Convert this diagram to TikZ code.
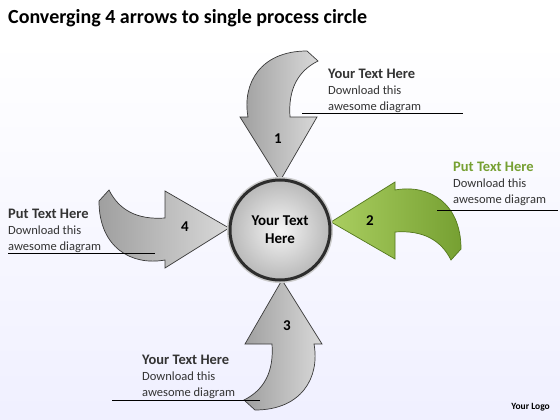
\documentclass[tikz,border=0pt]{standalone}
\usepackage{fontspec}
\setmainfont{Carlito}
\definecolor{leafgreen}{RGB}{118,160,50}
\definecolor{leafdark}{RGB}{84,120,30}
\definecolor{leaflight}{RGB}{170,206,96}
\newcommand{\headfont}{\bfseries\fontsize{14.5}{16}\selectfont}
\tikzset{
  bent arrow/.pic={
    \path[pic actions] (0,0) -- (37,-64) -- (10,-64)
      .. controls (8,-92) and (18,-110) .. (38,-120) -- (27,-130)
      .. controls (-20,-130) and (-38,-97) .. (-32,-64) -- (-40,-64) -- cycle;
  },
  grayarrow/.style={draw=gray!45!black, line width=0.7pt, left color=gray!75, right color=gray!30},
  greenarrow/.style={draw=leafdark, line width=0.7pt, left color=leaflight, right color=leafgreen},
  numlabel/.style={font=\bfseries\fontsize{15}{17}\selectfont},
  textblock/.style={anchor=north west, inner sep=0pt, align=left, font=\fontsize{12.5}{16}\selectfont, text=black!80}
}
\begin{document}
\begin{tikzpicture}[x=1pt, y=-1pt]
  \useasboundingbox (0,0) rectangle (560,420);
  % background
  \fill[white] (0,0) rectangle (560,40);
  \fill[top color=white, bottom color=blue!6!white] (0,40) rectangle (560,420);
  \node[anchor=west, inner sep=0pt, font=\bfseries\fontsize{20}{24}\selectfont] (title) at (8,18) {Converging 4 arrows to single process circle};

  % four arrows into the hub
  \pic[grayarrow] at (280,181) {bent arrow};
  \pic[greenarrow, rotate=-90] at (331,222) {bent arrow};
  \pic[grayarrow, rotate=180] at (282,280) {bent arrow};
  \pic[grayarrow, rotate=90] at (229,228) {bent arrow};

  % hub circle
  \fill[gray!40] (280,230) circle (53);
  \node[circle, minimum size=100pt, draw=gray!35!black, line width=3pt, inner color=gray!8, outer color=gray!55,
    align=center, font=\bfseries\fontsize{15}{18}\selectfont] (hub) at (280,230) {Your Text\\Here};

  \node[numlabel] (n1) at (278,139) {1};
  \node[numlabel] (n2) at (370,221) {2};
  \node[numlabel] (n3) at (287,326) {3};
  \node[numlabel] (n4) at (185,227) {4};

  % text blocks
  \node[textblock] (t1) at (328,69) {{\headfont Your Text Here}\\Download this\\awesome diagram};
  \node[textblock] (t2) at (453,162) {{\headfont\color{leafgreen} Put Text Here}\\Download this\\awesome diagram};
  \node[textblock] (t3) at (8,209) {{\headfont Put Text Here}\\Download this\\awesome diagram};
  \node[textblock] (t4) at (142,355) {{\headfont Your Text Here}\\Download this\\awesome diagram};

  \coordinate (u1a) at (302,113);
  \coordinate (u1b) at (463,113);
  \coordinate (u2a) at (437,210);
  \coordinate (u2b) at (558,210);
  \coordinate (u3a) at (8,253);
  \coordinate (u3b) at (155,253);
  \coordinate (u4a) at (112,400);
  \coordinate (u4b) at (260,400);
  \draw[line width=0.8pt] (u1a) -- (u1b);
  \draw[line width=0.8pt] (u2a) -- (u2b);
  \draw[line width=0.8pt] (u3a) -- (u3b);
  \draw[line width=0.8pt] (u4a) -- (u4b);

  \node[anchor=east, inner sep=0pt, font=\bfseries\fontsize{9.5}{11}\selectfont] (logo) at (550,407) {Your Logo};
\end{tikzpicture}
\end{document}
